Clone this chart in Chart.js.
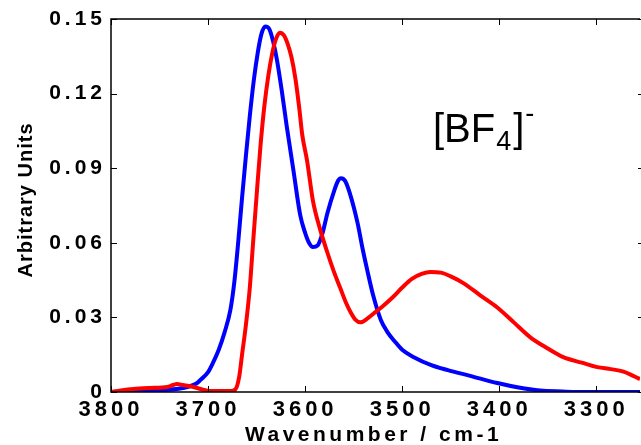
<!DOCTYPE html>
<html>
<head>
<meta charset="utf-8">
<script src="https://cdn.jsdelivr.net/npm/chart.js@4"></script>
<style>
  html, body { margin: 0; padding: 0; background: #fff; }
  #wrap { width: 641px; height: 445px; }
</style>
</head>
<body>
<div id="wrap"><canvas id="spec" width="641" height="445"></canvas></div>
<script>
// wavenumber (cm-1) and intensity
var blueWn = [3800, 3770, 3745, 3726, 3712, 3708, 3700, 3695, 3689, 3683, 3677, 3673, 3669, 3665, 3661,
  3657, 3653, 3649, 3645, 3641, 3637, 3633, 3629, 3624, 3619, 3612, 3605, 3600, 3596, 3592,
  3587, 3582, 3577, 3570, 3566, 3563, 3559, 3554, 3546, 3541, 3536, 3530, 3522, 3515, 3508,
  3500, 3488, 3470, 3453, 3430, 3402, 3380, 3358, 3335, 3320, 3255];
var blueAbs = [0, 0.0003, 0.0008, 0.0016, 0.0034, 0.0048, 0.008, 0.0117, 0.017, 0.024, 0.033, 0.044, 0.06, 0.078, 0.095,
  0.111, 0.125, 0.136, 0.144, 0.147, 0.146, 0.141, 0.1335, 0.121, 0.107, 0.089, 0.071, 0.064, 0.060, 0.0583,
  0.059, 0.064, 0.072, 0.081, 0.085, 0.086, 0.085, 0.080, 0.068, 0.058, 0.049, 0.039, 0.029, 0.024, 0.0205,
  0.017, 0.014, 0.0108, 0.0088, 0.0065, 0.0036, 0.0018, 0.0006, 0.0002, 0, 0];

var redWn = [3800, 3790, 3777, 3760, 3742, 3736, 3732, 3726, 3715, 3706, 3698, 3677, 3672, 3668, 3665,
  3661, 3657, 3654, 3650, 3646, 3642, 3638, 3634, 3630, 3626, 3622, 3618, 3614, 3610, 3606,
  3603, 3598, 3592, 3585, 3577, 3570, 3564, 3558, 3553, 3548, 3543, 3536, 3528, 3520, 3510,
  3500, 3490, 3480, 3471, 3460, 3450, 3437, 3420, 3402, 3385, 3368, 3350, 3334, 3315, 3299,
  3285, 3272, 3262, 3255];
var redAbs = [0, 0.0006, 0.0012, 0.0016, 0.002, 0.0028, 0.0032, 0.0028, 0.002, 0.001, 0.0004, 0.0004, 0.001, 0.006, 0.015,
  0.027, 0.042, 0.058, 0.079, 0.099, 0.115, 0.127, 0.136, 0.142, 0.1445, 0.1435, 0.140, 0.1345, 0.126, 0.114,
  0.1035, 0.093, 0.077, 0.066, 0.056, 0.048, 0.042, 0.036, 0.032, 0.029, 0.028, 0.0295, 0.032, 0.0345, 0.038,
  0.042, 0.0455, 0.0475, 0.0483, 0.048, 0.0465, 0.0438, 0.039, 0.034, 0.028, 0.022, 0.0175, 0.014, 0.0118, 0.010,
  0.0092, 0.0082, 0.0065, 0.0052];

var xTicks = [3800, 3700, 3600, 3500, 3400, 3300];
var yTicks = [0, 0.03, 0.06, 0.09, 0.12, 0.15];

var FONT = '"Liberation Sans", Arial, sans-serif';

function toPoints(xs, ys) {
  return xs.map(function (x, i) { return { x: x, y: ys[i] }; });
}

var frame = {
  id: 'frame',
  beforeDraw: function (chart) {
    chart.ctx.letterSpacing = '4px';
  },
  afterDraw: function (chart) {
    var ctx = chart.ctx, a = chart.chartArea;
    var xs = chart.scales.x, ys = chart.scales.y;
    ctx.save();
    ctx.strokeStyle = '#000';
    ctx.lineWidth = 1.5;
    ctx.beginPath();
    ctx.moveTo(a.right, a.top); ctx.lineTo(a.left, a.top);
    ctx.lineTo(a.left, a.bottom); ctx.lineTo(a.right, a.bottom);
    ctx.stroke();
    ctx.lineWidth = 1;
    ctx.beginPath();
    xTicks.forEach(function (v) {
      var p = Math.round(xs.getPixelForValue(v)) + 0.5;
      ctx.moveTo(p, a.bottom); ctx.lineTo(p, a.bottom - 6);
      ctx.moveTo(p, a.top); ctx.lineTo(p, a.top + 6);
    });
    yTicks.forEach(function (v) {
      var p = Math.round(ys.getPixelForValue(v)) + 0.5;
      ctx.moveTo(a.left, p); ctx.lineTo(a.left + 6, p);
      ctx.moveTo(a.right + 3, p); ctx.lineTo(a.right - 2, p);
    });
    ctx.stroke();

    ctx.fillStyle = '#000';
    // axis titles
    ctx.letterSpacing = '3.5px';
    ctx.font = 'bold 21px ' + FONT;
    ctx.textAlign = 'center';
    ctx.textBaseline = 'alphabetic';
    ctx.fillText('Wavenumber / cm-1', (a.left + a.right) / 2 - 2, 441);
    ctx.save();
    ctx.translate(32, 200);
    ctx.rotate(-Math.PI / 2);
    ctx.letterSpacing = '1px';
    ctx.font = 'bold 20px ' + FONT;
    ctx.fillText('Arbitrary Units', 0, 0);
    ctx.restore();

    // [BF4]- label
    ctx.letterSpacing = '0px';
    ctx.textAlign = 'left';
    var x = 433, base = 142;
    ctx.font = '40px ' + FONT;
    ctx.fillText('[BF', x, base);
    x += ctx.measureText('[BF').width;
    ctx.font = '27px ' + FONT;
    ctx.fillText('4', x + 1, base + 8);
    x += ctx.measureText('4').width + 3;
    ctx.font = '40px ' + FONT;
    ctx.fillText(']', x, base);
    x += ctx.measureText(']').width + 1;
    ctx.font = '27px ' + FONT;
    ctx.fillText('-', x, base - 20);
    ctx.restore();
  }
};

new Chart('spec', {
  type: 'line',
  data: {
    datasets: [
      {
        label: 'red',
        data: toPoints(redWn, redAbs),
        borderColor: '#ff0000',
        borderWidth: 4,
        pointRadius: 0,
        cubicInterpolationMode: 'monotone'
      },
      {
        label: 'blue',
        data: toPoints(blueWn, blueAbs),
        borderColor: '#0000ff',
        borderWidth: 4,
        pointRadius: 0,
        cubicInterpolationMode: 'monotone'
      }
    ]
  },
  options: {
    responsive: false,
    animation: false,
    layout: { padding: { top: 19, right: 1, left: 0, bottom: 0 } },
    plugins: { legend: { display: false }, tooltip: { enabled: false } },
    scales: {
      x: {
        type: 'linear',
        reverse: true,
        min: 3255,
        max: 3800,
        grid: { display: false, drawTicks: false },
        border: { display: false },
        afterBuildTicks: function (s) { s.ticks = xTicks.map(function (v) { return { value: v }; }); },
        afterFit: function (s) { s.height = 53; },
        ticks: {
          autoSkip: false,
          maxRotation: 0,
          padding: 5,
          color: '#000',
          font: { family: FONT, size: 22, weight: 'bold' },
          callback: function (v) { return String(v); }
        }
      },
      y: {
        min: 0,
        max: 0.15,
        grid: { display: false, drawTicks: false },
        border: { display: false },
        afterBuildTicks: function (s) { s.ticks = yTicks.map(function (v) { return { value: v }; }); },
        afterFit: function (s) { s.width = 111; },
        ticks: {
          padding: 5,
          color: '#000',
          font: { family: FONT, size: 21, weight: 'bold' },
          callback: function (v) { return v === 0 ? '0' : v.toFixed(2); }
        }
      }
    }
  },
  plugins: [frame]
});
</script>
</body>
</html>
